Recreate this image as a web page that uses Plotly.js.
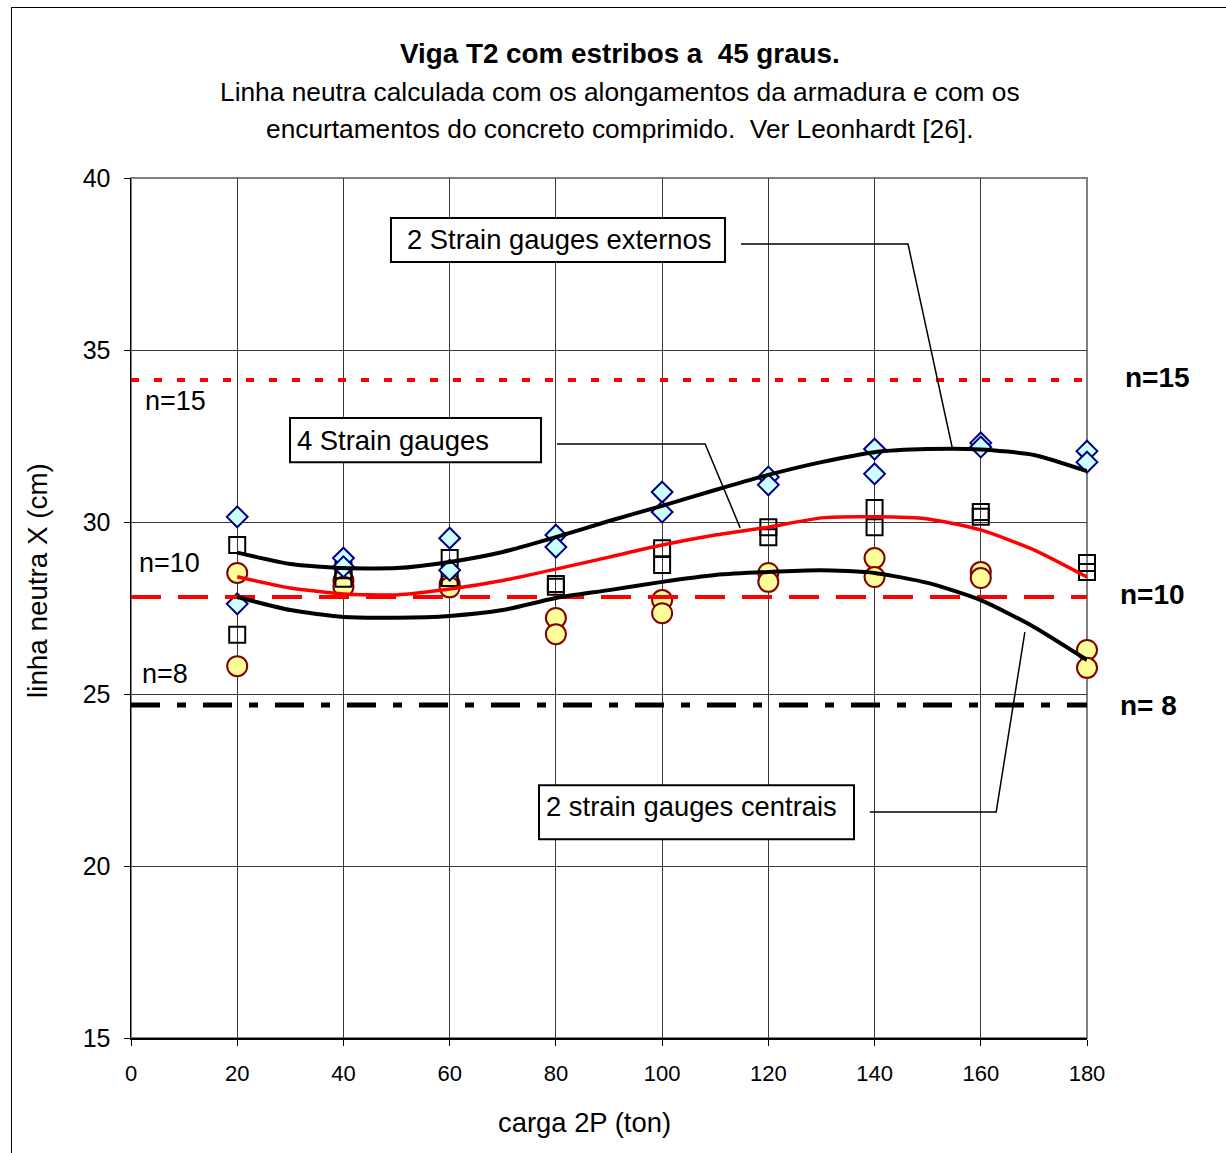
<!DOCTYPE html>
<html>
<head>
<meta charset="utf-8">
<script src="https://cdn.plot.ly/plotly-3.0.1.min.js"></script>
<style>
  html, body { margin: 0; padding: 0; background: #fff; }
  #wrap { position: relative; width: 1226px; height: 1153px; overflow: hidden; }
  #frame { position: absolute; left: 11px; top: 7px; width: 1240px; height: 1160px;
           border: 1.5px solid #000; pointer-events: none; z-index: 2; }
  #chart { position: absolute; left: 0; top: 0; width: 1226px; height: 1153px; }
</style>
</head>
<body>
<div id="wrap">
  <div id="chart"></div>
  <div id="frame"></div>
</div>
<script>
// Load levels 2P (ton) at which the gauges were read (two readings per level)
const loads = [20, 20, 40, 40, 60, 60, 80, 80, 100, 100, 120, 120, 140, 140, 160, 160, 180, 180];

// Neutral axis depth X (cm) from the two external strain gauges
const externos = [30.15, 27.62, 28.95, 28.70, 29.53, 28.60, 29.62, 29.27, 30.87, 30.29,
                  31.31, 31.08, 32.12, 31.40, 32.30, 32.18, 32.06, 31.74];
// ... from the four strain gauges
const quatro = [29.33, 26.72, 28.60, 28.35, 28.95, 28.37, 28.20, 28.12, 29.24, 28.75,
                29.85, 29.56, 30.41, 29.85, 30.29, 30.15, 28.81, 28.55];
// ... from the two central strain gauges
const centrais = [28.52, 25.81, 28.30, 28.12, 28.20, 28.10, 27.21, 26.74, 27.73, 27.35,
                  28.52, 28.26, 28.95, 28.40, 28.55, 28.37, 26.28, 25.76];

// Smoothed trend curves
const trendX = [20, 30, 40, 50, 60, 70, 80, 90, 100, 110, 120, 130, 140, 150, 160, 170, 180];
const trendExternos = [29.11, 28.78, 28.66, 28.66, 28.84, 29.13, 29.56, 30.03, 30.47, 30.93,
                       31.37, 31.74, 32.03, 32.12, 32.11, 31.95, 31.48];
const trendQuatro = [28.41, 28.08, 27.91, 27.88, 28.05, 28.30, 28.63, 28.98, 29.33, 29.62,
                     29.85, 30.12, 30.15, 30.09, 29.77, 29.19, 28.40];
const trendCentrais = [27.82, 27.44, 27.24, 27.22, 27.27, 27.44, 27.79, 28.02, 28.26, 28.46,
                       28.55, 28.60, 28.52, 28.23, 27.73, 26.95, 25.99];

// Theoretical neutral axis depth for modular ratios n = 15, 10, 8
const refSpan = [0, 180];
const refN15 = 34.13;
const refN10 = 27.82;
const refN8 = 24.68;

const FONT = 'Liberation Sans, Arial, sans-serif';

const traces = [
  {
    x: loads, y: centrais, type: 'scatter', mode: 'markers', cliponaxis: false,
    marker: { symbol: 'circle', size: 20, color: '#ffff99', line: { color: '#800000', width: 2 } }
  },
  {
    x: loads, y: quatro, type: 'scatter', mode: 'markers', cliponaxis: false,
    marker: { symbol: 'square-open', size: 16, color: '#000', line: { color: '#000', width: 2 } }
  },
  {
    x: loads, y: externos, type: 'scatter', mode: 'markers', cliponaxis: false,
    marker: { symbol: 'diamond', size: 16, color: '#ccffff', line: { color: '#000080', width: 2 } }
  },
  {
    x: refSpan, y: [refN15, refN15], type: 'scatter', mode: 'lines', cliponaxis: false,
    line: { color: '#ff0000', width: 4, dash: '8px,15px' }
  },
  {
    x: refSpan, y: [refN10, refN10], type: 'scatter', mode: 'lines', cliponaxis: false,
    line: { color: '#ff0000', width: 4, dash: '30px,17px' }
  },
  {
    x: refSpan, y: [refN8, refN8], type: 'scatter', mode: 'lines', cliponaxis: false,
    line: { color: '#000', width: 5, dash: '29px,17px,9px,17px' }
  },
  {
    x: trendX, y: trendExternos, type: 'scatter', mode: 'lines', cliponaxis: false,
    line: { color: '#000', width: 4, shape: 'spline', smoothing: 0.6 }
  },
  {
    x: trendX, y: trendQuatro, type: 'scatter', mode: 'lines', cliponaxis: false,
    line: { color: '#ff0000', width: 3.5, shape: 'spline', smoothing: 0.6 }
  },
  {
    x: trendX, y: trendCentrais, type: 'scatter', mode: 'lines', cliponaxis: false,
    line: { color: '#000', width: 4, shape: 'spline', smoothing: 0.6 }
  }
];

// Label boxes and their leader lines (data coordinates)
const boxLine = { color: '#000', width: 2 };
const leader = { color: '#000', width: 1.5 };
const shapes = [
  { type: 'rect', xref: 'paper', yref: 'paper', x0: 0, x1: 1, y0: 0, y1: 1,
    line: { color: '#808080', width: 2 }, layer: 'below' },
  { type: 'rect', xref: 'x', yref: 'y', x0: 48.95, x1: 111.84, y0: 37.56, y1: 38.84,
    fillcolor: '#fff', line: boxLine },
  { type: 'rect', xref: 'x', yref: 'y', x0: 29.94, x1: 77.2, y0: 31.74, y1: 33.02,
    fillcolor: '#fff', line: boxLine },
  { type: 'rect', xref: 'x', yref: 'y', x0: 76.82, x1: 136.13, y0: 20.78, y1: 22.35,
    fillcolor: '#fff', line: boxLine },
  { type: 'path', xref: 'x', yref: 'y', path: 'M114.85,38.08 L146.3,38.08 L154.6,32.18', line: leader },
  { type: 'path', xref: 'x', yref: 'y', path: 'M80.2,32.27 L108.1,32.27 L114.7,29.83', line: leader },
  { type: 'path', xref: 'x', yref: 'y', path: 'M139.1,21.57 L162.9,21.57 L168.3,26.8', line: leader }
];

const txt = (size) => ({ family: FONT, size: size, color: '#000' });

const annotations = [
  { text: '<b>Viga T2 com estribos a  45 graus.</b>', xref: 'paper', yref: 'paper',
    x: 0.5115, y: 1.1442, xanchor: 'center', yanchor: 'middle', showarrow: false, font: txt(27.8) },
  { text: 'Linha neutra calculada com os alongamentos da armadura e com os', xref: 'paper', yref: 'paper',
    x: 0.5115, y: 1.100, xanchor: 'center', yanchor: 'middle', showarrow: false, font: txt(26.3) },
  { text: 'encurtamentos do concreto comprimido.  Ver Leonhardt [26].', xref: 'paper', yref: 'paper',
    x: 0.5115, y: 1.057, xanchor: 'center', yanchor: 'middle', showarrow: false, font: txt(26.3) },

  { text: 'carga 2P (ton)', xref: 'paper', yref: 'paper', x: 0.474, y: -0.0977,
    xanchor: 'center', yanchor: 'middle', showarrow: false, font: txt(27.4) },
  { text: 'linha neutra X (cm)', xref: 'paper', yref: 'paper', x: -0.0973, y: 0.5326,
    xanchor: 'center', yanchor: 'middle', textangle: -90, showarrow: false, font: txt(27.8) },

  { text: '2 Strain gauges externos', xref: 'x', yref: 'y', x: 51.6, y: 38.2,
    xanchor: 'left', yanchor: 'middle', showarrow: false, font: txt(27.4) },
  { text: '4 Strain gauges', xref: 'x', yref: 'y', x: 30.9, y: 32.38,
    xanchor: 'left', yanchor: 'middle', showarrow: false, font: txt(27.4) },
  { text: '2 strain gauges centrais', xref: 'x', yref: 'y', x: 77.8, y: 21.74,
    xanchor: 'left', yanchor: 'middle', showarrow: false, font: txt(27.4) },

  { text: 'n=15', xref: 'x', yref: 'y', x: 2.3, y: 33.52,
    xanchor: 'left', yanchor: 'middle', showarrow: false, font: txt(27) },
  { text: 'n=10', xref: 'x', yref: 'y', x: 1.2, y: 28.81,
    xanchor: 'left', yanchor: 'middle', showarrow: false, font: txt(27) },
  { text: 'n=8', xref: 'x', yref: 'y', x: 1.6, y: 25.58,
    xanchor: 'left', yanchor: 'middle', showarrow: false, font: txt(27) },

  { text: '<b>n=15</b>', xref: 'paper', yref: 'y', x: 1.0375, y: 34.21,
    xanchor: 'left', yanchor: 'middle', showarrow: false, font: txt(28) },
  { text: '<b>n=10</b>', xref: 'paper', yref: 'y', x: 1.0325, y: 27.88,
    xanchor: 'left', yanchor: 'middle', showarrow: false, font: txt(28) },
  { text: '<b>n= 8</b>', xref: 'paper', yref: 'y', x: 1.0325, y: 24.68,
    xanchor: 'left', yanchor: 'middle', showarrow: false, font: txt(28) }
];

const layout = {
  width: 1226, height: 1153,
  margin: { l: 131, r: 139, t: 178, b: 115, pad: 0 },
  paper_bgcolor: '#fff', plot_bgcolor: '#fff',
  showlegend: false,
  font: { family: FONT, color: '#000' },
  xaxis: {
    range: [0, 180], tick0: 0, dtick: 20, fixedrange: true,
    showgrid: true, gridcolor: '#3a3a3a', gridwidth: 1, zeroline: false,
    showline: true, linecolor: '#000', linewidth: 1.5,
    ticks: 'outside', ticklen: 6, tickcolor: '#000', tickwidth: 1,
    ticklabelstandoff: 9,
    tickfont: { family: FONT, size: 22, color: '#000' }
  },
  yaxis: {
    range: [15, 40], tick0: 15, dtick: 5, fixedrange: true,
    showgrid: true, gridcolor: '#3a3a3a', gridwidth: 1, zeroline: false,
    showline: true, linecolor: '#000', linewidth: 1.5,
    ticks: 'outside', ticklen: 6, tickcolor: '#000', tickwidth: 1,
    ticklabelstandoff: 8,
    tickfont: { family: FONT, size: 25, color: '#000' }
  },
  shapes: shapes,
  annotations: annotations
};

Plotly.newPlot('chart', traces, layout, { displayModeBar: false, staticPlot: true });
</script>
</body>
</html>
